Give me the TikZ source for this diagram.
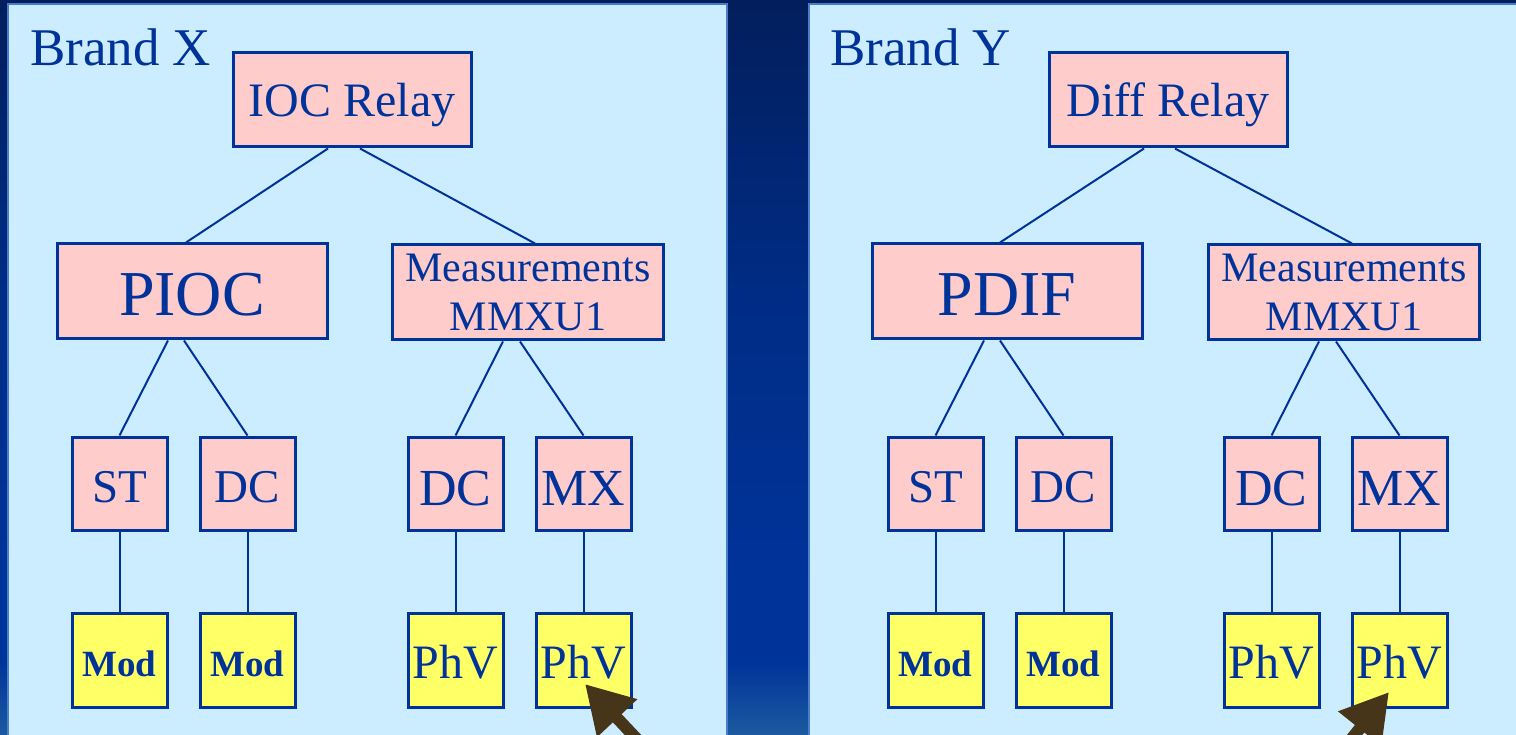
\documentclass[tikz,border=0pt]{standalone}
\usepackage{fontspec}
\setmainfont{Liberation Serif}
\usetikzlibrary{calc,arrows.meta}

\definecolor{ink}{HTML}{003399}
\definecolor{panelfill}{HTML}{CCECFF}
\definecolor{panelline}{HTML}{4A7CCC}
\definecolor{boxpink}{HTML}{FFCCCC}
\definecolor{boxyellow}{HTML}{FFFF66}
\definecolor{pointer}{HTML}{47351A}
\definecolor{bgtop}{HTML}{021E5C}
\definecolor{bgmid}{HTML}{002C85}
\definecolor{bglow}{HTML}{003399}
\definecolor{bgbottom}{HTML}{1C5AA0}

\pgfdeclareverticalshading{backdrop}{100bp}{%
  color(0bp)=(bgbottom); color(25bp)=(bgbottom); color(30bp)=(bglow);
  color(36bp)=(bglow); color(55bp)=(bgmid); color(75bp)=(bgtop); color(100bp)=(bgtop)}

\tikzset{
  lnbox/.style={draw=ink, line width=3pt, fill=boxpink, text=ink, inner sep=0pt, align=center},
  topbox/.style={lnbox, minimum width=238pt, minimum height=94pt, text height=34pt, text depth=0pt,
    font=\fontsize{48}{56}\selectfont},
  fnbox/.style={lnbox, minimum width=270pt, minimum height=95pt, text height=49pt, text depth=0pt,
    font=\fontsize{64}{72}\selectfont},
  mmbox/.style={lnbox, minimum width=271pt, minimum height=95pt, font=\fontsize{42}{49}\selectfont},
  dobox/.style={lnbox, minimum width=95pt, minimum height=93pt, text depth=0pt},
  smallobj/.style={dobox, text height=37pt, font=\fontsize{47}{54}\selectfont},
  bigobj/.style={dobox, text height=43pt, font=\fontsize{52}{60}\selectfont},
  attrbox/.style={lnbox, fill=boxyellow, minimum width=95pt, minimum height=94pt, text depth=0pt},
  modbox/.style={attrbox, text height=32pt, font=\bfseries\fontsize{37}{44}\selectfont},
  phvbox/.style={attrbox, text height=36pt, font=\fontsize{48}{56}\selectfont},
  link/.style={draw=ink, line width=2pt},
  brand/.style={anchor=base west, text=ink, inner sep=0pt, font=\fontsize{53}{60}\selectfont},
  panel/.style={fill=panelfill, draw=panelline, line width=2pt},
  pointerarrow/.style={draw=pointer, line width=12pt, -{Triangle[length=47pt,width=52pt]}}
}

\begin{document}
\begin{tikzpicture}[x=1pt, y=-1pt]
  \useasboundingbox (0,0) rectangle (1516,735);
  \clip (0,0) rectangle (1516,735);

  % backdrop and the two panels
  \shade[shading=backdrop] (0,0) rectangle (1516,735);
  \draw[panel] (8,4) rectangle (727,745);
  \draw[panel] (809,4) rectangle (1530,745);

  \node[brand] (brandx) at (30,66) {Brand X};
  \node[brand] (brandy) at (830,66) {Brand Y};

  % ---- Brand X tree ----
  \node[topbox] (ioc) at (352,100) {IOC Relay};
  \node[fnbox] (pioc) at (192,291.5) {PIOC};
  \node[mmbox] (mmxa) at (528,292.5) {Measurements\\MMXU1};
  \node[smallobj] (sta) at (119.5,483.5) {ST};
  \node[smallobj] (dca) at (247.5,483.5) {DC};
  \node[bigobj] (dcb) at (455.5,483.5) {DC};
  \node[bigobj] (mxa) at (583.5,483.5) {MX};
  \node[modbox] (moda) at (119.5,660) {Mod};
  \node[modbox] (modb) at (247.5,660) {Mod};
  \node[phvbox] (phva) at (455.5,660) {PhV};
  \node[phvbox] (phvb) at (583.5,660) {PhV};

  \draw[link] ($(ioc.south)+(-24,0)$) -- ($(pioc.north)+(-6,0)$);
  \draw[link] ($(ioc.south)+(8,0)$) -- ($(mmxa.north)+(7,0)$);
  \draw[link] ($(pioc.south)+(-24,0)$) -- (sta.north);
  \draw[link] ($(pioc.south)+(-8,0)$) -- (dca.north);
  \draw[link] ($(mmxa.south)+(-25,0)$) -- (dcb.north);
  \draw[link] ($(mmxa.south)+(-8,0)$) -- (mxa.north);
  \draw[link] (sta) -- (moda);
  \draw[link] (dca) -- (modb);
  \draw[link] (dcb) -- (phva);
  \draw[link] (mxa) -- (phvb);

  % ---- Brand Y tree ----
  \node[topbox] (diff) at (1168,100) {Diff Relay};
  \node[fnbox] (pdif) at (1007,291.5) {PDIF};
  \node[mmbox] (mmxb) at (1344,292.5) {Measurements\\MMXU1};
  \node[smallobj] (stb) at (935.5,483.5) {ST};
  \node[smallobj] (dcc) at (1063.5,483.5) {DC};
  \node[bigobj] (dcd) at (1271.5,483.5) {DC};
  \node[bigobj] (mxb) at (1399.5,483.5) {MX};
  \node[modbox] (modc) at (935.5,660) {Mod};
  \node[modbox] (modd) at (1063.5,660) {Mod};
  \node[phvbox] (phvc) at (1271.5,660) {PhV};
  \node[phvbox] (phvd) at (1399.5,660) {PhV};

  \draw[link] ($(diff.south)+(-24,0)$) -- ($(pdif.north)+(-7,0)$);
  \draw[link] ($(diff.south)+(7,0)$) -- ($(mmxb.north)+(8,0)$);
  \draw[link] ($(pdif.south)+(-23,0)$) -- (stb.north);
  \draw[link] ($(pdif.south)+(-7,0)$) -- (dcc.north);
  \draw[link] ($(mmxb.south)+(-25,0)$) -- (dcd.north);
  \draw[link] ($(mmxb.south)+(-8,0)$) -- (mxb.north);
  \draw[link] (stb) -- (modc);
  \draw[link] (dcc) -- (modd);
  \draw[link] (dcd) -- (phvc);
  \draw[link] (mxb) -- (phvd);

  % pointers onto the PhV attributes
  \coordinate (tipa) at (585,684);
  \coordinate (taila) at (665,769);
  \coordinate (tipb) at (1389,692);
  \coordinate (tailb) at (1329,767);
  \draw[pointerarrow] (taila) -- (tipa);
  \draw[pointerarrow] (tailb) -- (tipb);
\end{tikzpicture}
\end{document}
